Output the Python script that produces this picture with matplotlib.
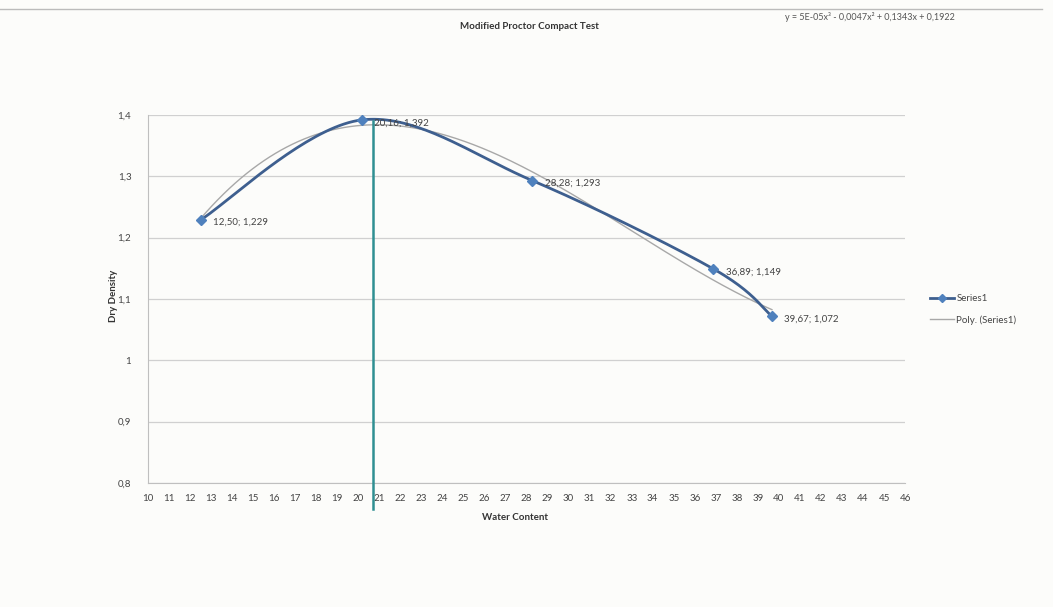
import numpy as np
import matplotlib
matplotlib.use("Agg")
import matplotlib.pyplot as plt
from matplotlib.lines import Line2D

plt.rcParams['font.family'] = ['Lato', 'DejaVu Sans']

# data
water = [12.50, 20.16, 28.28, 36.89, 39.67]
density = [1.229, 1.392, 1.293, 1.149, 1.072]
labels = ["12,50; 1,229", "20,16; 1,392", "28,28; 1,293", "36,89; 1,149", "39,67; 1,072"]
opt_water = 20.7
x_ticks = list(range(10, 47))
y_ticks = [0.8, 0.9, 1.0, 1.1, 1.2, 1.3, 1.4]
y_tick_labels = ["0,8", "0,9", "1", "1,1", "1,2", "1,3", "1,4"]
equation = "y = 5E-05x³ - 0,0047x² + 0,1343x + 0,1922"


def smooth(xs, ys, n=40):
    # catmull-rom style smoothing, like the excel "smoothed line"
    xs = np.asarray(xs, float)
    ys = np.asarray(ys, float)
    px = np.concatenate([[xs[0]], xs, [xs[-1]]])
    py = np.concatenate([[ys[0]], ys, [ys[-1]]])
    ox, oy = [], []
    for i in range(1, len(px) - 2):
        t = np.linspace(0, 1, n)
        p0, p1, p2, p3 = (px[i-1], py[i-1]), (px[i], py[i]), (px[i+1], py[i+1]), (px[i+2], py[i+2])
        for k, out in ((0, ox), (1, oy)):
            a, b, c, d = p0[k], p1[k], p2[k], p3[k]
            c1 = b + (c - a) / 6
            c2 = c - (d - b) / 6
            out.extend((1-t)**3*b + 3*(1-t)**2*t*c1 + 3*(1-t)*t**2*c2 + t**3*c)
    return np.array(ox), np.array(oy)


fig = plt.figure(figsize=(10.53, 6.07), dpi=100)
fig.patch.set_facecolor("#fcfcfa")
ax = fig.add_axes([0.1406, 0.2043, 0.7189, 0.6062])
ax.set_facecolor("none")

# top border line of the chart frame
fig.add_artist(Line2D([0.0, 0.99], [0.985, 0.985], color="#bbbbbb", lw=1.0))

ax.set_xlim(10, 46)
ax.set_ylim(0.8, 1.4)
ax.set_yticks(y_ticks)
ax.set_yticklabels(y_tick_labels)
ax.set_xticks(x_ticks)
ax.set_xticklabels([str(v) for v in x_ticks])
ax.tick_params(axis="x", length=0, labelsize=7, colors="#444444", pad=8)
ax.tick_params(axis="y", length=0, labelsize=7, colors="#444444", pad=12)
ax.grid(axis="y", color="#d0d0d0", lw=0.9)
for s in ["top", "right"]:
    ax.spines[s].set_visible(False)
ax.spines["left"].set_color("#bfbfbf")
ax.spines["bottom"].set_color("#bfbfbf")

# polynomial trendline
coef = np.polyfit(water, density, 3)
xx = np.linspace(water[0], water[-1], 200)
ax.plot(xx, np.polyval(coef, xx), color="#a8a8a8", lw=1.0, zorder=2)

# series
sx, sy = smooth(water, density)
ax.plot(sx, sy, color="#3e5f8f", lw=2.0, zorder=3)
ax.plot(water, density, ls="none", marker="D", ms=5, color="#4f81bd", zorder=4)

for x, y, t in zip(water, density, labels):
    ax.annotate(t, (x, y), xytext=(9, -2), textcoords="offset points",
                fontsize=7, color="#444444", va="center", ha="left")

# optimum water content line
ax.axvline(opt_water, ymin=-0.07, ymax=0.985, color="#2f8f92", lw=1.8,
           clip_on=False, zorder=5)

fig.text(0.503, 0.957, "Modified Proctor Compact Test", ha="center", va="center",
         fontsize=7, fontweight="bold", color="#333333")
fig.text(0.826, 0.972, equation, ha="center", va="center", fontsize=6.5, color="#555555")
fig.text(0.489, 0.148, "Water Content", ha="center", va="center",
         fontsize=7, fontweight="bold", color="#333333")
fig.text(0.108, 0.512, "Dry Density", ha="center", va="center", rotation=90,
         fontsize=7, fontweight="bold", color="#333333")

handles = [Line2D([], [], color="#3e5f8f", lw=2, marker="D", ms=4, mfc="#4f81bd", mec="#4f81bd"),
           Line2D([], [], color="#a8a8a8", lw=1)]
fig.legend(handles, ["Series1", "Poly. (Series1)"], loc="center left",
           bbox_to_anchor=(0.875, 0.49), frameon=False, fontsize=7,
           handlelength=2.5, handletextpad=0.2, labelspacing=1.2,
           labelcolor="#444444")

fig.savefig("out.png", dpi=100, facecolor=fig.get_facecolor())
